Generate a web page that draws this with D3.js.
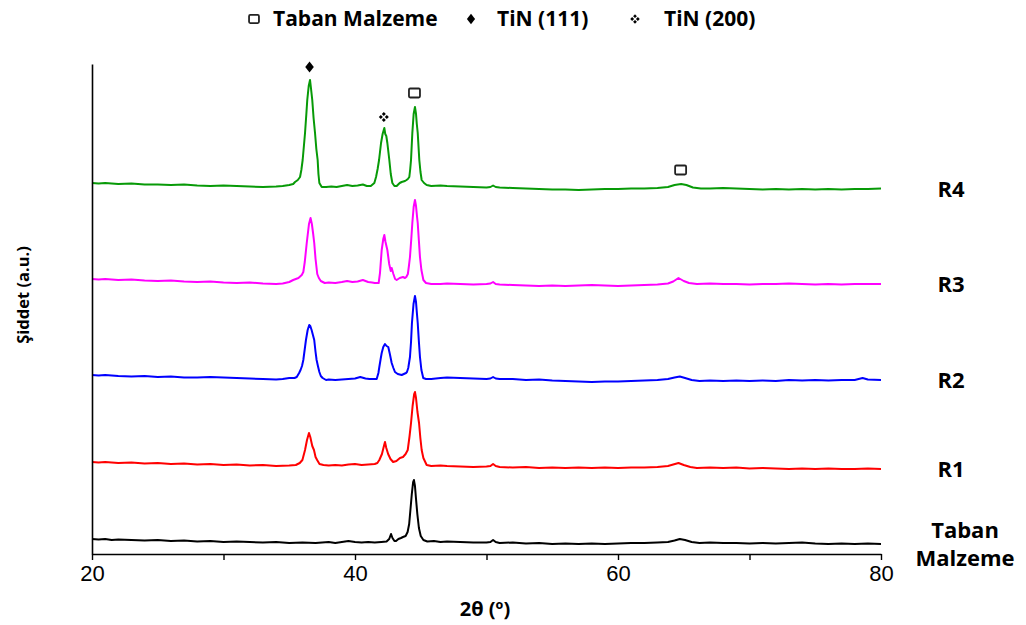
<!DOCTYPE html>
<html>
<head>
<meta charset="utf-8">
<script src="https://cdn.jsdelivr.net/npm/d3@7"></script>
<style>
  html, body { margin: 0; padding: 0; background: #fff; }
  svg { display: block; }
</style>
</head>
<body>
<svg id="chart" width="1026" height="625"></svg>
<script>
// ---- Data (2θ in degrees, intensity in a.u., stacked as plotted) ----
const seriesNames = ["Taban Malzeme", "R1", "R2", "R3", "R4"];
const seriesColors = ["#000000", "#ff0000", "#0000ff", "#ff00ff", "#079a07"];
const xTicks = [20, 30, 40, 50, 60, 70, 80];
const xTickLabels = ["20", "", "40", "", "60", "", "80"];
const legendItems = ["Taban Malzeme", "TiN (111)", "TiN (200)"];
const legendSymbols = ["taban", "tin111", "tin200"];
const peakMarkerDeg = [36.58, 42.23, 44.56, 64.8];
const peakMarkerSym = ["tin111", "tin200", "taban", "taban"];

const tabanData = [
[20,15],[20.5,14.5],[21,15],[21.5,14],[22,14.5],[23,14],[24,13.5],[25,14],[26,13],[27,13.5],[28,12.5],[29,13],[30,12],[31,12.5],[32,12],[33,11.5],[34,12],[35,11],[36,11.5],[37,11],[37.5,11.5],[38,12],[38.5,11],[39,12],[39.5,13],[40,12],[40.5,11.5],[41,12],[41.5,11.5],[42,12],[42.4,12.5],[42.6,15],[42.74,20],[42.85,16],[43,13],[43.12,13],[43.3,15],[43.5,16],[43.65,17],[43.85,18],[44,22],[44.12,30],[44.22,45],[44.32,60],[44.42,72],[44.48,74],[44.56,68],[44.64,55],[44.74,40],[44.86,26],[45,18],[45.2,14],[45.5,12.5],[46,13],[46.5,12],[47,12.5],[48,12],[49,11.5],[50,11.5],[50.3,12],[50.5,14],[50.7,12],[51,11],[52,11.5],[53,10.5],[54,11],[55,10],[56,10.5],[57,10],[58,10.5],[59,10],[60,10.5],[61,11],[62,11],[63,11.5],[63.8,12],[64.3,13.5],[64.7,15],[65.1,14],[65.6,12],[66.2,11],[67,11.5],[68,11],[69,11],[70,10.5],[71,11],[72,10.5],[73,11],[74,11.5],[75,10.5],[76,10],[77,10.5],[78,10],[79,10.5],[80,10]
];
const r1Data = [
[20,92],[20.5,91.5],[21,92],[22,91],[23,91.5],[24,90.5],[25,91],[26,90],[27,90.5],[28,89.5],[29,90],[30,89],[31,89.5],[32,88.5],[33,89],[34,88],[35,88.5],[35.5,89],[35.8,91],[36,94],[36.2,104],[36.35,114],[36.5,121],[36.6,117],[36.75,108],[36.88,104],[37,97],[37.12,94],[37.3,90],[37.6,89],[38,88.5],[38.5,89],[39,88.5],[39.5,89.5],[40,90],[40.5,89],[41,89.5],[41.5,90],[41.7,91],[41.85,94],[42.05,100],[42.2,108],[42.28,112],[42.38,106],[42.52,100],[42.7,95],[42.9,92],[43.15,93],[43.42,96],[43.65,97],[43.85,100],[44.01,104],[44.15,118],[44.26,131],[44.38,148],[44.5,160],[44.56,162],[44.64,156],[44.75,142],[44.87,131],[44.97,116],[45.07,104],[45.2,96],[45.45,89],[45.8,88],[46.5,88.5],[47,88],[48,87.5],[49,87],[50,87.5],[50.3,88],[50.5,90],[50.7,88],[51,87],[52,86.5],[53,87],[54,86],[55,86.5],[56,86],[57,86.5],[58,86],[59,86.5],[60,86],[61,86.5],[62,86.5],[63,87],[63.8,88],[64.2,89.5],[64.6,91],[65,89],[65.5,87],[66,86],[67,86.5],[68,86],[69,86.5],[70,85.5],[71,86],[72,85.5],[73,85],[74,85.5],[75,85],[76,85.5],[77,85],[78,85],[79,85.5],[80,85]
];
const r2Data = [
[20,179],[20.5,178.5],[21,179],[22,178],[23,177.5],[24,178],[25,177],[26,177.5],[27,176.5],[28,176.5],[29,177],[30,176.5],[31,176],[32,175.5],[33,175],[34,174.5],[34.5,175],[35,176],[35.4,176],[35.57,177],[35.75,181],[35.86,184],[35.97,188],[36.07,194],[36.18,205],[36.27,214],[36.4,224],[36.52,229],[36.6,228],[36.7,224],[36.8,219],[36.9,214],[37,202],[37.08,194],[37.18,188],[37.29,182],[37.4,178],[37.54,176],[37.8,174],[38,174.5],[38.5,174],[39,174.5],[39.5,175],[40,175.5],[40.4,177],[40.8,175.5],[41.1,175],[41.4,175],[41.65,175],[41.78,181],[41.85,187],[41.95,195],[42.03,201],[42.15,207],[42.28,210],[42.4,208],[42.53,207],[42.65,200],[42.79,191],[42.92,186],[43.04,182],[43.25,180],[43.55,179],[43.88,181],[43.95,182],[44.05,186],[44.18,197],[44.26,212],[44.33,231],[44.45,250],[44.56,258],[44.64,252],[44.7,242],[44.77,231],[44.86,212],[44.94,197],[45.05,184],[45.19,176],[45.4,175],[45.8,175],[46.5,176],[47,176.5],[48,176],[49,175.5],[50,175],[50.3,175.5],[50.5,177],[50.7,175.5],[51,175],[52,175],[53,174],[54,174.5],[55,173.5],[56,173],[57,172.5],[58,172],[59,172.5],[60,172.5],[61,173],[62,173.5],[63,174],[63.8,175],[64.3,176.5],[64.7,177.5],[65.1,176],[65.6,174],[66.2,173],[67,173.5],[68,173],[69,173.5],[70,173],[71,173.5],[72,173],[73,174],[74,173.5],[75,174],[76,173.5],[77,174],[78,174],[78.6,176],[79,174.5],[80,174]
];
const r3Data = [
[20,275],[20.5,274.5],[21,275],[22,274],[23,274.5],[24,273.5],[25,273],[26,273.5],[27,272.5],[28,272],[29,272.5],[30,271.5],[31,271],[32,271.5],[33,270.5],[34,270],[34.5,270.5],[35,272],[35.3,274],[35.7,276],[35.95,279],[36.07,282],[36.18,292],[36.33,311],[36.5,330],[36.62,336],[36.72,330],[36.82,320],[36.9,311],[37,295],[37.13,280],[37.25,276],[37.4,273],[37.7,271],[38,271.5],[38.5,271],[39,272],[39.4,273],[39.8,272],[40.2,272.5],[40.6,274],[41,272],[41.3,271.5],[41.5,271],[41.8,271],[41.9,281],[42.03,304],[42.15,315],[42.23,319],[42.32,312],[42.46,304],[42.6,290],[42.72,283],[42.79,286],[42.92,280],[43.05,275],[43.17,274],[43.4,276],[43.65,277],[43.8,276],[43.9,277],[44.02,280],[44.1,288],[44.18,297],[44.28,315],[44.36,331],[44.46,347],[44.56,354],[44.64,348],[44.72,337],[44.77,331],[44.86,313],[44.94,297],[45.05,284],[45.2,274],[45.4,271],[45.8,270],[46.5,270],[47,270.5],[48,270],[49,269.5],[50,270],[50.3,270.5],[50.5,272],[50.7,270],[51,269.5],[52,269],[53,268.5],[54,268],[55,268.5],[56,268],[57,268.5],[58,269],[59,268.5],[60,268],[61,268.5],[62,269],[63,269.5],[63.8,270.5],[64.2,272.5],[64.6,276],[65,273],[65.4,271],[66,270],[67,270.5],[68,270],[69,270],[70,269.5],[71,270],[72,270],[73,270.5],[74,270],[75,269.5],[76,270],[77,269.5],[78,270],[79,270],[80,270]
];
const r4Data = [
[20,371],[20.5,370.5],[21,371],[22,370],[23,370.5],[24,369.5],[25,369.5],[26,369],[27,369.5],[28,368.5],[29,368],[30,368.5],[31,368],[32,367.5],[33,367],[34,367.5],[34.5,368],[35,369],[35.3,370],[35.44,372],[35.65,374],[35.82,377],[35.92,384],[36.02,394],[36.1,406],[36.2,421],[36.3,440],[36.37,454],[36.48,468],[36.58,474],[36.65,466],[36.75,454],[36.85,436],[36.96,421],[37.06,405],[37.16,394],[37.22,380],[37.29,371],[37.47,367],[37.8,367],[38.2,367.5],[38.6,367],[39,368],[39.4,369],[39.8,368],[40.2,368.5],[40.6,369.5],[40.9,368],[41.2,368],[41.47,371],[41.6,377],[41.72,385],[41.83,394],[41.98,411],[42.1,420],[42.23,426],[42.3,420],[42.38,418],[42.46,411],[42.61,394],[42.72,380],[42.84,371],[43,368],[43.17,368],[43.4,371],[43.55,372],[43.8,373],[43.92,374],[44.02,375],[44.13,377],[44.2,385],[44.26,394],[44.36,421],[44.46,440],[44.56,447],[44.64,440],[44.7,430],[44.77,421],[44.89,394],[44.98,382],[45.07,374],[45.25,371],[45.45,369],[45.8,368],[46.5,368.5],[47,368],[48,367.5],[49,367],[50,366.5],[50.3,367],[50.5,368.5],[50.7,367],[51,366.5],[52,366],[53,365.5],[54,365],[55,364.5],[56,364.5],[57,364],[58,364.5],[59,365],[60,365],[61,365.5],[62,365.5],[63,366],[63.8,367],[64.3,369],[64.8,370],[65.2,369],[65.7,366.5],[66.3,365.5],[67,365.5],[68,366],[69,365.5],[70,365],[71,364.5],[72,365],[73,364.5],[74,365],[75,364.5],[76,365],[77,364.5],[78,365],[79,365],[80,365.5]
];
const seriesData = [tabanData, r1Data, r2Data, r3Data, r4Data];

// ---- Chart ----
const svg = d3.select("#chart");
const x = d3.scaleLinear().domain([20, 80]).range([92, 881]);
const y = d3.scaleLinear().domain([0, 490]).range([554, 64]);
const boldFont = "'Open Sans', 'DejaVu Sans', sans-serif";

// Series lines
const line = d3.line().x(d => x(d[0])).y(d => y(d[1]));
svg.append("g").selectAll("path")
  .data(seriesData)
  .join("path")
  .attr("d", line)
  .attr("fill", "none")
  .attr("stroke", (d, i) => seriesColors[i])
  .attr("stroke-width", 2)
  .attr("stroke-linejoin", "round");

// X axis
const xAxis = d3.axisBottom(x)
  .tickValues(xTicks)
  .tickFormat((d, i) => xTickLabels[i])
  .tickSizeInner(6)
  .tickSizeOuter(0)
  .tickPadding(5);
const gx = svg.append("g").attr("transform", "translate(0,554)").call(xAxis);
gx.select(".domain").attr("stroke", "#000").attr("stroke-width", 1.6);
gx.selectAll(".tick line").attr("stroke", "#000").attr("stroke-width", 1.4);
gx.selectAll(".tick text")
  .attr("font-family", "'Liberation Sans', Arial, sans-serif")
  .attr("font-size", 22)
  .attr("fill", "#000");

// Y axis (line only)
const yAxis = d3.axisLeft(y).tickValues([]).tickSizeOuter(0);
const gy = svg.append("g").attr("transform", "translate(92,0)").call(yAxis);
gy.select(".domain").attr("stroke", "#000").attr("stroke-width", 1.6);

// Axis titles
svg.append("text")
  .attr("x", 485).attr("y", 616)
  .attr("text-anchor", "middle")
  .attr("font-family", boldFont).attr("font-weight", 700).attr("font-size", 20)
  .text("2θ (º)");
svg.append("text")
  .attr("transform", "translate(29,295) rotate(-90)")
  .attr("text-anchor", "middle")
  .attr("font-family", boldFont).attr("font-weight", 700).attr("font-size", 16.5)
  .text("Şiddet (a.u.)");

// Symbol drawing helper
function drawSymbol(g, type, cx, cy, s) {
  if (type === "taban") {
    g.append("rect")
      .attr("x", cx - 5.5 * s).attr("y", cy - 4.5 * s)
      .attr("width", 11 * s).attr("height", 9 * s)
      .attr("rx", 1.2).attr("fill", "#fff")
      .attr("stroke", "#222").attr("stroke-width", 1.8);
  } else if (type === "tin111") {
    g.append("path")
      .attr("d", `M${cx},${cy - 5.5 * s} L${cx + 4.3 * s},${cy} L${cx},${cy + 5.5 * s} L${cx - 4.3 * s},${cy} Z`)
      .attr("fill", "#000");
  } else {
    const d = 3 * s, r = 2 * s;
    [[0, -d], [d, 0], [0, d], [-d, 0]].forEach(([dx, dy]) => {
      g.append("path")
        .attr("d", `M${cx + dx},${cy + dy - r} L${cx + dx + r},${cy + dy} L${cx + dx},${cy + dy + r} L${cx + dx - r},${cy + dy} Z`)
        .attr("fill", "#000");
    });
  }
}

// Peak markers above the R4 trace
const gm = svg.append("g");
peakMarkerDeg.forEach((deg, i) => {
  const near = r4Data.filter(p => Math.abs(p[0] - deg) <= 0.25);
  const top = d3.max(near, p => p[1]);
  const off = peakMarkerSym[i] === "tin200" ? 11 : (peakMarkerSym[i] === "tin111" ? 13 : 14);
  drawSymbol(gm, peakMarkerSym[i], x(deg) - 0.5, y(top) - off, 1);
});

// Top legend
const legendSymX = [254, 471, 635];
const legendTextX = [273, 497, 664];
const gl = svg.append("g");
legendItems.forEach((t, i) => {
  drawSymbol(gl, legendSymbols[i], legendSymX[i], 19, legendSymbols[i] === "taban" ? 0.9 : 0.95);
  gl.append("text")
    .attr("x", legendTextX[i]).attr("y", 26)
    .attr("font-family", boldFont).attr("font-weight", 700).attr("font-size", 21)
    .text(t);
});

// Right-side series labels
const gr = svg.append("g");
seriesNames.forEach((name, i) => {
  const last = seriesData[i][seriesData[i].length - 1];
  const cy = y(last[1]);
  const words = name.split(" ");
  const lineH = 28;
  words.forEach((w, j) => {
    gr.append("text")
      .attr("x", words.length > 1 ? 965 : 951)
      .attr("y", cy + 8 + (j - (words.length - 1) / 2) * lineH)
      .attr("text-anchor", "middle")
      .attr("font-family", boldFont).attr("font-weight", 700).attr("font-size", 22)
      .text(w);
  });
});
</script>
</body>
</html>
